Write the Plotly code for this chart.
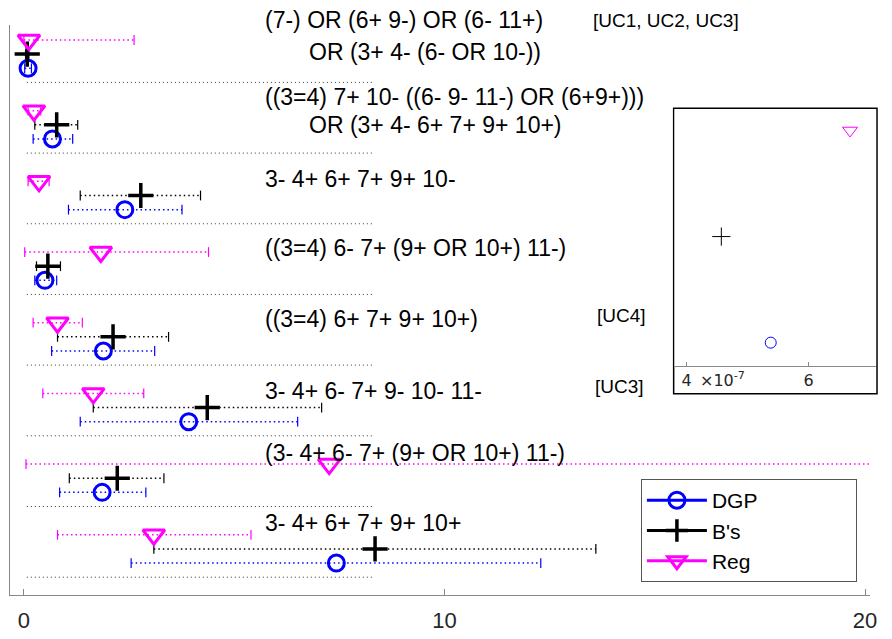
import plotly.graph_objects as go

# ---------------- data (groups listed top to bottom) ----------------
group_labels = [
    ["(7-) OR (6+ 9-) OR (6- 11+)", "OR (3+ 4- (6- OR 10-))"],
    ["((3=4) 7+ 10- ((6- 9- 11-) OR (6+9+)))", "OR (3+ 4- 6+ 7+ 9+ 10+)"],
    ["3- 4+ 6+ 7+ 9+ 10-"],
    ["((3=4) 6- 7+ (9+ OR 10+) 11-)"],
    ["((3=4) 6+ 7+ 9+ 10+)"],
    ["3- 4+ 6- 7+ 9- 10- 11-"],
    ["(3- 4+ 6- 7+ (9+ OR 10+) 11-)"],
    ["3- 4+ 6+ 7+ 9+ 10+"],
]
group_tags = ["[UC1, UC2, UC3]", "", "", "", "[UC4]", "[UC3]", "", ""]

dgp_val = [0.10, 0.68, 2.40, 0.50, 1.89, 3.92, 1.86, 7.43]
dgp_lo  = [0.02, 0.22, 1.06, 0.26, 0.66, 1.34, 0.85, 2.55]
dgp_hi  = [0.18, 1.16, 3.76, 0.78, 3.11, 6.51, 2.90, 12.29]

bs_val = [0.08, 0.78, 2.78, 0.57, 2.12, 4.36, 2.22, 8.35]
bs_lo  = [0.04, 0.26, 1.34, 0.30, 0.80, 1.65, 1.08, 3.09]
bs_hi  = [0.12, 1.28, 4.20, 0.87, 3.44, 7.08, 3.33, 13.60]

reg_val = [0.12, 0.24, 0.36, 1.83, 0.80, 1.65, 7.26, 3.09]
reg_lo  = [0.00, 0.10, 0.10, 0.02, 0.22, 0.45, 0.05, 0.80]
reg_hi  = [2.62, 0.40, 0.60, 4.39, 1.39, 2.85, 25.0, 5.40]

# inset (zoom of the top group, units of 1e-7)
inset_vals = {"DGP": 5.38e-7, "B's": 4.57e-7, "Reg": 6.68e-7}
inset_ticks = [4e-7, 6e-7]
inset_ticktext = ["4", "6"]

main_ticks = [0, 10, 20]

# ---------------- layout helpers (positions / styles) ----------------
n = len(group_labels)
base = [5 * (n - 1 - k) for k in range(n)]          # separator level per group
y_dgp = [b + 1 for b in base]
y_bs = [b + 2 for b in base]
y_reg = [b + 3 for b in base]
label_dy = [[4.41, 2.17], [3.94, 1.98], [3.19], [3.28], [3.23], [3.18], [3.77], [3.86]]
tag_dy = [4.41, 0, 0, 0, 3.51, 3.46, 0, 0]
label_x = [5.68, 6.72]
tag_x = [13.49, 0, 0, 0, 13.58, 13.54, 0, 0]
sep_span = [0.07, 8.3]
YMIN, YMAX = -1.26, 39.06

BLUE, BLACK, MAG = "#0000FF", "#000000", "#FF00FF"
FONT = "Liberation Sans, Arial, Helvetica, sans-serif"

fig = go.Figure()

# separators
sx, sy = [], []
for b in base:
    sx += [sep_span[0], sep_span[1], None]
    sy += [b, b, None]
fig.add_trace(go.Scatter(x=sx, y=sy, mode="lines", showlegend=False, hoverinfo="skip",
                         line=dict(color="#333333", width=1, dash="1px,3px")))

series = [
    ("DGP", dgp_val, dgp_lo, dgp_hi, y_dgp, BLUE,
     dict(symbol="circle-open", size=16, line=dict(width=3, color=BLUE), color=BLUE)),
    ("B's", bs_val, bs_lo, bs_hi, y_bs, BLACK,
     dict(symbol="cross-thin-open", size=18, line=dict(width=3.5, color=BLACK), color=BLACK)),
    ("Reg", reg_val, reg_lo, reg_hi, y_reg, MAG,
     dict(symbol="triangle-down-open", size=19, line=dict(width=3, color=MAG), color=MAG)),
]

for name, val, lo, hi, ys, col, mk in series:
    ix, iy = [], []
    for l, h, y in zip(lo, hi, ys):
        ix += [l, h, None]
        iy += [y, y, None]
    fig.add_trace(go.Scatter(x=ix, y=iy, mode="lines", showlegend=False, hoverinfo="skip",
                             line=dict(color=col, width=1.5, dash="1.5px,3px")))
    fig.add_trace(go.Scatter(x=lo + hi, y=ys + ys, mode="markers", showlegend=False,
                             hoverinfo="skip",
                             marker=dict(symbol="line-ns-open", size=7, color=col,
                                         line=dict(width=1.2, color=col))))

for name, val, lo, hi, ys, col, mk in series:
    fig.add_trace(go.Scatter(x=val, y=ys, mode="markers", showlegend=False, marker=mk,
                             name=name))

# legend entries (padded names widen the legend box like the reference)
PAD = "\u00a0" * 16
for name, val, lo, hi, ys, col, mk in series:
    fig.add_trace(go.Scatter(x=[None], y=[None], mode="lines+markers", name=name + PAD,
                             line=dict(color=col, width=3), marker=mk))

# inset markers
inset_style = {
    "DGP": dict(symbol="circle-open", size=11, color=BLUE, line=dict(width=1, color=BLUE)),
    "B's": dict(symbol="cross-thin-open", size=13, color=BLACK, line=dict(width=1, color=BLACK)),
    "Reg": dict(symbol="triangle-down-open", size=13, color=MAG, line=dict(width=1, color=MAG)),
}
inset_y = {"DGP": 1, "B's": 2, "Reg": 3}
for name, v in inset_vals.items():
    fig.add_trace(go.Scatter(x=[v], y=[inset_y[name]], mode="markers", showlegend=False,
                             xaxis="x2", yaxis="y2", marker=inset_style[name]))


def ypaper(y):
    return (y - YMIN) / (YMAX - YMIN)


# annotations: group labels and tags
ann = []
for k in range(n):
    for j, txt in enumerate(group_labels[k]):
        ann.append(dict(x=label_x[j], y=ypaper(base[k] + label_dy[k][j]), xref="x",
                        yref="paper", text=txt, showarrow=False, xanchor="left",
                        yanchor="middle", font=dict(family=FONT, size=23, color="black")))
    if group_tags[k]:
        ann.append(dict(x=tag_x[k], y=ypaper(base[k] + tag_dy[k]), xref="x", yref="paper",
                        text=group_tags[k], showarrow=False, xanchor="left", yanchor="middle",
                        font=dict(family=FONT, size=19, color="black")))
ann.append(dict(x=4.18e-7, y=0.3774, xref="x2", yref="paper", text="\u00d710<sup>-7</sup>",
                showarrow=False, xanchor="left", yanchor="middle",
                font=dict(family="DejaVu Sans, sans-serif", size=16, color="#262626")))

W, H = 892, 639
L, R, T, B = 10, 6, 25, 39
pw = W - L - R
ph = H - T - B


def px(xp):
    return (xp - L) / pw


def py(yp):
    return (H - B - yp) / ph


fig.update_layout(
    width=W, height=H,
    margin=dict(l=L, r=R, t=T, b=B),
    paper_bgcolor="white", plot_bgcolor="white",
    font=dict(family=FONT, color="#262626"),
    xaxis=dict(domain=[0, px(877)], range=[-0.33, 20.12], tickvals=main_ticks,
               showgrid=False, zeroline=False, showline=True, linecolor="#888888",
               linewidth=1, ticks="inside", ticklen=6, tickcolor="#888888",
               ticklabelstandoff=6,
               tickfont=dict(size=22, color="#262626")),
    yaxis=dict(range=[YMIN, YMAX], showgrid=False, zeroline=False, showline=True,
               linecolor="#888888", linewidth=1, showticklabels=False, ticks=""),
    xaxis2=dict(domain=[px(680), px(883)], anchor="y2", range=[3.805e-7, 7.106e-7],
                tickvals=inset_ticks, ticktext=inset_ticktext, showgrid=False,
                zeroline=False, showline=True, linecolor="#888888", linewidth=1,
                ticks="inside", ticklen=4, tickcolor="#888888",
                tickfont=dict(family="DejaVu Sans, sans-serif", size=16, color="#262626")),
    yaxis2=dict(domain=[py(369), py(110)], anchor="x2", range=[0.78, 3.2],
                showgrid=False, zeroline=False, showline=False, showticklabels=False),
    shapes=[dict(type="rect", xref="paper", yref="paper", x0=px(679), x1=px(884),
                 y0=py(397), y1=py(109), line=dict(color="black", width=1.5),
                 fillcolor="white", layer="below")],
    legend=dict(x=px(646), y=py(483), xanchor="left", yanchor="top",
                bgcolor="white", bordercolor="#555555", borderwidth=1,
                font=dict(family=FONT, size=21, color="black"), itemwidth=60,
                tracegroupgap=0),
    annotations=ann,
    showlegend=True,
)

fig.write_html("out.html")
